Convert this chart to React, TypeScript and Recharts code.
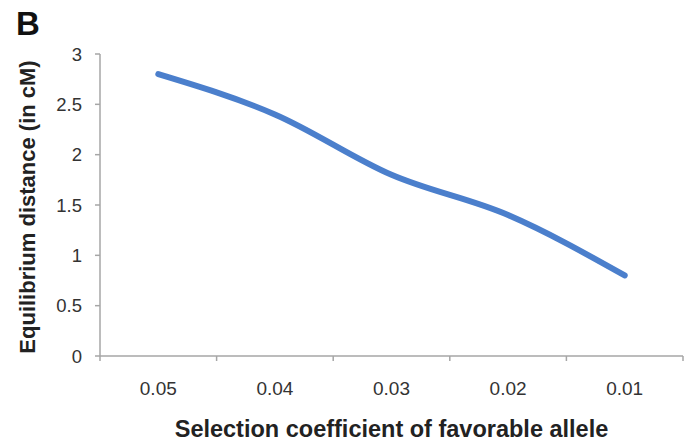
import React from 'react';
import { LineChart, Line, XAxis, YAxis } from 'recharts';

const categories = ['0.05', '0.04', '0.03', '0.02', '0.01'];
const distance = [2.8, 2.4, 1.8, 1.4, 0.8];
const yTicks = [0, 0.5, 1, 1.5, 2, 2.5, 3];
const xIndexTicks = [0, 1, 2, 3, 4];

const data = categories.map((c, i) => ({ i, label: c, value: distance[i] }));

const W = 695;
const H = 445;
const MARGIN = { top: 54, right: 12, bottom: 0, left: 0 };
const Y_AXIS_W = 100;
const X_AXIS_H = 89;
const PLOT_W = W - MARGIN.left - MARGIN.right - Y_AXIS_W;
const HALF_BAND = PLOT_W / categories.length / 2;

const AXIS = '#a6a6a6';
const TEXT = '#333333';
const BLUE = '#4b7fcc';
const FONT = '"Liberation Sans", Arial, sans-serif';

const XTick = (props: any) => {
  const { x, y, payload, index } = props;
  const axisY = y;
  const lbl = categories[payload.value] ?? '';
  return (
    <g>
      <line x1={x - HALF_BAND} x2={x - HALF_BAND} y1={axisY} y2={axisY + 5} stroke={AXIS} strokeWidth={1.5} />
      {index === categories.length - 1 && (
        <line x1={x + HALF_BAND} x2={x + HALF_BAND} y1={axisY} y2={axisY + 5} stroke={AXIS} strokeWidth={1.5} />
      )}
      <text x={x} y={axisY + 39} textAnchor="middle" fontSize={19} fill={TEXT} fontFamily={FONT}>
        {lbl}
      </text>
    </g>
  );
};

const YTick = (props: any) => {
  const { x, y, payload } = props;
  return (
    <text x={x} y={y} textAnchor="end" dominantBaseline="central" fontSize={18.5} fill={TEXT} fontFamily={FONT}>
      {payload.value}
    </text>
  );
};

const XTitle = (props: any) => {
  const vb = props.viewBox;
  return (
    <text x={vb.x + vb.width / 2} y={vb.y + 81} textAnchor="middle" fontSize={23.5} fontWeight="bold" fill="#222" fontFamily={FONT}>
      Selection coefficient of favorable allele
    </text>
  );
};

const YTitle = (props: any) => {
  const vb = props.viewBox;
  const cx = 27;
  const cy = vb.y + vb.height / 2 + 2;
  return (
    <text x={cx} y={cy} transform={`rotate(-90, ${cx}, ${cy})`} textAnchor="middle" dominantBaseline="central" fontSize={22} fontWeight="bold" fill="#222" fontFamily={FONT}>
      Equilibrium distance (in cM)
    </text>
  );
};

export default function App() {
  return (
    <div style={{ position: 'absolute', left: 0, top: 0, width: W, height: H, background: '#fff' }}>
      <div style={{ position: 'absolute', left: 16, top: 5, fontFamily: FONT, fontWeight: 'bold', fontSize: 33, color: '#111', lineHeight: '38px' }}>
        B
      </div>
      <LineChart width={W} height={H} data={data} margin={MARGIN}>
        <XAxis
          dataKey="i"
          type="number"
          domain={[-0.5, 4.5]}
          ticks={xIndexTicks}
          interval={0}
          height={X_AXIS_H}
          axisLine={{ stroke: AXIS, strokeWidth: 1.5 }}
          tickLine={false}
          tickSize={0}
          tickMargin={0}
          tick={<XTick />}
          label={<XTitle />}
        />
        <YAxis
          type="number"
          domain={[0, 3]}
          ticks={yTicks}
          interval={0}
          width={Y_AXIS_W}
          axisLine={{ stroke: AXIS, strokeWidth: 1.5 }}
          tickLine={{ stroke: AXIS, strokeWidth: 1.5 }}
          tickSize={5}
          tickMargin={13}
          tick={<YTick />}
          label={<YTitle />}
        />
        <Line
          type="monotone"
          dataKey="value"
          stroke={BLUE}
          strokeWidth={6}
          strokeLinecap="round"
          dot={false}
          activeDot={false}
          isAnimationActive={false}
        />
      </LineChart>
    </div>
  );
}
